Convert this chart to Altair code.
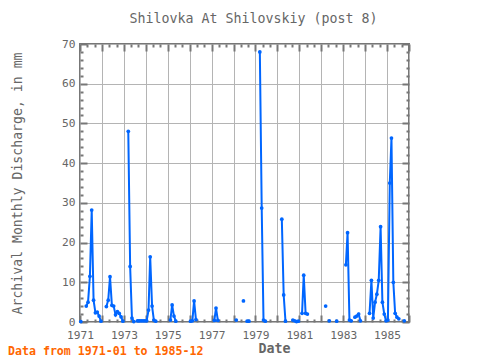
import altair as alt
import pandas as pd

title_text = "Shilovka At Shilovskiy (post 8)"
y_title = "Archival Monthly Discharge, in mm"
x_title = "Date"
note_text = "Data from 1971-01 to 1985-12"

N = None
years = list(range(1971, 1986))
v1971 = [0.1, N, N, 4.0, 5.0, 11.5, 28.2, 5.5, 2.3, 2.5, 1.5, 0.2]
v1972 = [N, N, 3.9, 5.5, 11.4, 4.2, 4.0, 1.8, 2.6, 2.2, 1.3, 0.2]
v1973 = [N, N, 48.0, 14.0, 1.0, 0.1, N, 0.3, 0.3, 0.3, 0.3, 0.3]
v1974 = [0.3, 3.0, 16.4, 4.0, 0.5, 0.2, N, N, N, N, N, N]
v1975 = [N, 0.5, 4.3, 1.5, 0.2, N, N, N, N, N, N, N]
v1976 = [0.2, 0.3, 5.3, 0.6, N, N, N, N, N, N, N, N]
v1977 = [N, 0.4, 3.5, 0.4, N, N, N, N, N, N, N, N]
v1978 = [N, 0.5, N, N, N, 5.3, N, 0.2, 0.2, N, N, N]
v1979 = [N, N, 68.0, 28.7, 0.5, 0.2, N, N, N, N, N, N]
v1980 = [N, N, 25.9, 6.8, 0.2, N, N, N, 0.5, 0.3, 0.1, 0.2]
v1981 = [N, 2.2, 11.8, 2.2, 2.0, N, N, N, N, N, N, N]
v1982 = [N, N, 4.0, N, 0.3, N, N, N, 0.2, N, N, N]
v1983 = [N, 14.4, 22.5, 0.5, 0.3, N, 1.2, 1.5, 2.0, 0.3, N, N]
v1984 = [N, N, 2.2, 10.5, 1.0, 5.0, 7.0, 10.5, 24.0, 5.0, 2.0, 0.3]
v1985 = [0.5, 35.0, 46.3, 10.0, 2.2, 1.2, 0.8, N, N, 0.3, N, N]
all_years = [v1971, v1972, v1973, v1974, v1975, v1976, v1977, v1978,
             v1979, v1980, v1981, v1982, v1983, v1984, v1985]

rows = []
seg = 0
for y, vals in zip(years, all_years):
    for m, v in enumerate(vals, start=1):
        if v is None:
            seg += 1
            continue
        rows.append({"date": f"{y}-{m:02d}-15", "value": v, "seg": seg})
df = pd.DataFrame(rows)

FONT = "DejaVu Sans Mono"
GRAY = "#666666"
FRAME = "#777777"
BLUE = "#0066ff"

xscale = alt.Scale(type="utc", domain=[alt.DateTime(year=1971, month=1, date=1, utc=True),
                                       alt.DateTime(year=1986, month=1, date=1, utc=True)])
yscale = alt.Scale(domain=[0, 70], nice=False)

year_vals = [alt.DateTime(year=y, month=1, date=1, utc=True) for y in range(1971, 1987)]
minor_x = [alt.DateTime(year=y, month=m, date=1, utc=True) for y in range(1971, 1986) for m in (5, 9)]
major_y = list(range(0, 71, 10))
minor_y = [v for v in range(0, 71, 2) if v % 10 != 0]


def tick_axis(orient, values, size):
    return alt.Axis(orient=orient, values=values, labels=False, grid=False, domain=False,
                    ticks=True, tickSize=size, offset=-size, tickColor=FRAME, tickWidth=2,
                    title=None)


base = alt.Chart(df)

line = base.mark_line(color=BLUE, strokeWidth=2).encode(
    x=alt.X("date:T", scale=xscale, axis=alt.Axis(
        orient="bottom", values=year_vals, grid=True, gridColor="#b4b4b4", gridWidth=1,
        ticks=False, domain=False, labelOverlap=False, labelFlush=False,
        labelExpr="utcyear(datum.value) % 2 == 1 ? utcFormat(datum.value, '%Y') : ''",
        labelFont=FONT, labelFontSize=11.2, labelColor=GRAY, labelPadding=7,
        title=x_title, titleFont=FONT, titleFontSize=13.3, titleFontWeight="bold",
        titleColor=GRAY, titleX=194, titleY=26, titleBaseline="middle")),
    y=alt.Y("value:Q", scale=yscale, axis=alt.Axis(
        orient="left", values=major_y, grid=True, gridColor="#b4b4b4", gridWidth=1,
        ticks=False, domain=False, labelFlush=False, labelFont=FONT, labelFontSize=11.2,
        labelColor=GRAY, labelPadding=5, title=y_title, titleFont=FONT, titleFontSize=13.2,
        titleFontWeight="normal", titleColor=GRAY, titleX=-63, titleY=139,
        titleBaseline="middle")),
    detail="seg:N",
)

points = base.mark_circle(color=BLUE, size=14, opacity=1).encode(
    x=alt.X("date:T", scale=xscale, axis=tick_axis("bottom", year_vals, 7)),
    y=alt.Y("value:Q", scale=yscale, axis=tick_axis("left", major_y, 7)),
)

inv1 = base.mark_point(opacity=0).encode(
    x=alt.X("date:T", scale=xscale, axis=tick_axis("bottom", minor_x, 3)),
    y=alt.Y("value:Q", scale=yscale, axis=tick_axis("left", minor_y, 3)),
)
inv2 = base.mark_point(opacity=0).encode(
    x=alt.X("date:T", scale=xscale, axis=tick_axis("top", year_vals, 7)),
    y=alt.Y("value:Q", scale=yscale, axis=tick_axis("right", major_y, 7)),
)
inv3 = base.mark_point(opacity=0).encode(
    x=alt.X("date:T", scale=xscale, axis=tick_axis("top", minor_x, 3)),
    y=alt.Y("value:Q", scale=yscale, axis=tick_axis("right", minor_y, 3)),
)

note = alt.Chart(pd.DataFrame({"t": [note_text]})).mark_text(
    align="left", baseline="middle", font=FONT, fontSize=11.6, fontWeight="bold",
    color="#ff6600").encode(x=alt.value(-72), y=alt.value(308), text="t:N")

chart = alt.layer(line, points, inv1, inv2, inv3, note).resolve_axis(
    x="independent", y="independent"
).properties(
    width=329, height=278,
    title=alt.TitleParams(text=title_text, anchor="middle", dx=9, offset=13, font=FONT,
                          fontSize=13.3, fontWeight="normal", color=GRAY),
    autosize=alt.AutoSizeParams(type="none"),
    padding={"left": 72, "top": 36, "right": 20, "bottom": 38},
).configure_view(stroke=FRAME, strokeWidth=2)

chart.save("out.html", embed_options={"renderer": "svg", "actions": False})
